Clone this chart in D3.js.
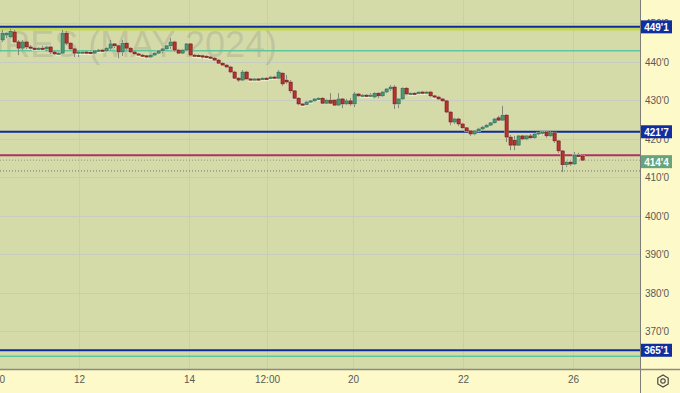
<!DOCTYPE html>
<html>
<head>
<meta charset="utf-8">
<script src="https://cdn.jsdelivr.net/npm/d3@7"></script>
<style>
  html, body { margin: 0; padding: 0; background: #fdf9c9; }
  svg { display: block; font-family: "Liberation Sans", Arial, sans-serif; }
</style>
</head>
<body>
<svg id="chart" width="680" height="393"></svg>
<script>
// candles, one per slot, prices in cents
var opens = [445.7,447.0,446.5,447.8,445.2,443.6,445.2,443.9,443.6,443.4,443.6,443.4,443.9,442.6,442.1,442.3,447.5,444.9,443.4,442.3,
  442.3,442.6,442.5,442.3,442.9,443.1,442.9,443.6,444.7,444.2,442.6,444.9,443.6,442.6,442.1,441.8,441.6,441.3,441.8,442.3,
  442.9,443.4,444.2,445.2,443.1,442.3,443.1,444.7,441.8,441.7,441.6,441.5,441.3,441.0,440.5,439.7,439.2,438.7,437.4,435.8,
  435.3,437.4,435.6,435.5,435.6,435.5,435.8,435.7,436.1,435.8,437.1,435.3,434.8,432.5,430.6,429.1,429.0,429.6,429.9,430.4,
  430.6,429.3,430.1,430.1,428.8,430.4,429.1,429.9,429.1,431.7,431.2,431.4,431.2,430.9,431.9,431.2,432.2,433.0,433.5,429.1,
  430.4,433.2,431.7,431.9,431.8,432.2,431.9,432.2,431.2,430.9,430.4,429.9,427.0,424.4,425.2,423.9,422.9,422.1,421.3,422.1,
  422.6,423.1,423.6,424.2,425.5,424.9,426.2,420.5,419.7,418.4,420.8,420.0,420.8,420.3,421.3,421.6,421.8,420.8,421.6,419.5,
  416.9,413.3,414.0,413.5,415.8,415.6];
var highs = [448.3,447.8,448.6,448.3,445.7,445.7,445.5,444.4,443.9,443.9,444.2,444.2,444.2,442.9,442.6,448.3,448.0,445.2,443.6,442.9,
  442.9,442.9,442.9,443.1,443.4,443.4,443.9,445.7,444.9,444.4,445.7,445.2,443.9,442.9,442.3,442.1,441.8,442.1,442.6,443.1,
  443.6,444.4,446.2,445.5,443.4,443.4,444.9,444.9,442.1,442.1,441.8,441.8,441.6,441.3,440.8,440.0,439.5,439.0,437.7,436.1,
  437.9,437.7,435.8,435.8,435.8,436.1,436.1,436.4,436.4,437.9,437.4,436.6,435.3,432.7,430.9,429.3,429.9,430.1,430.6,430.9,
  430.9,430.4,431.9,430.4,431.9,430.6,430.4,430.6,432.2,431.9,431.7,431.7,431.9,432.2,432.2,432.5,433.2,434.0,434.0,430.6,
  433.5,433.5,432.2,432.2,432.2,432.5,432.5,432.5,431.4,431.2,430.6,430.1,427.3,425.5,425.5,424.2,423.1,422.3,422.3,422.9,
  423.4,423.9,424.4,425.5,426.0,428.6,426.5,421.0,420.8,421.0,421.0,421.0,421.3,421.6,421.8,422.1,422.1,422.1,421.8,419.7,
  417.1,414.3,414.3,416.6,416.4,415.8];
var lows = [445.2,446.2,446.2,444.9,441.8,443.1,443.4,443.1,443.1,443.1,443.1,442.9,442.1,441.8,441.8,442.1,444.4,443.1,441.3,441.3,
  442.1,442.3,442.1,442.1,442.6,442.6,442.6,443.1,443.6,441.0,441.6,443.1,442.3,441.8,441.6,441.3,441.0,441.0,441.6,442.1,
  442.3,443.1,443.4,442.6,442.1,442.1,442.9,441.6,441.6,441.3,440.8,441.0,440.8,440.3,439.5,439.0,438.4,437.1,435.6,434.8,
  435.1,435.3,435.3,435.3,435.3,435.3,435.6,435.6,435.6,435.6,433.8,434.3,431.9,430.4,428.8,428.6,428.8,429.3,429.6,430.1,
  429.1,429.1,429.1,428.6,428.6,428.0,428.8,428.6,428.3,430.9,430.9,430.9,430.9,430.6,430.6,430.9,431.9,432.5,427.8,428.0,
  430.1,431.4,431.4,431.7,431.7,431.7,431.7,430.9,430.6,430.1,429.6,426.7,423.6,423.9,423.4,422.6,421.8,420.8,421.0,421.8,
  422.3,422.9,423.4,423.9,424.7,424.7,419.2,417.1,417.1,418.2,419.7,419.7,420.0,420.0,420.8,421.0,420.3,420.5,419.0,416.4,
  411.4,412.7,413.0,413.3,415.3,414.3];
var closes = [447.5,447.5,448.0,445.2,443.6,445.2,443.9,443.6,443.4,443.6,443.4,443.9,442.6,442.1,442.3,447.5,444.9,443.4,442.3,442.6,
  442.6,442.5,442.3,442.9,443.1,442.9,443.6,444.7,444.2,442.6,444.9,443.6,442.6,442.1,441.8,441.6,441.3,441.8,442.3,442.9,
  443.4,444.2,445.2,443.1,442.3,443.1,444.7,441.8,441.7,441.6,441.5,441.3,441.0,440.5,439.7,439.2,438.7,437.4,435.8,435.3,
  437.4,435.6,435.5,435.6,435.5,435.8,435.7,436.1,435.8,437.4,434.3,434.8,432.5,430.6,429.1,429.0,429.6,429.9,430.4,430.6,
  429.3,430.1,429.3,428.8,430.4,429.1,429.9,429.1,431.7,431.2,431.4,431.2,431.4,431.9,431.2,432.2,433.0,433.5,429.1,430.4,
  433.2,431.7,431.9,431.8,432.2,431.9,432.2,431.2,430.9,430.4,429.9,427.0,424.4,425.2,423.9,422.9,422.1,421.3,422.1,422.6,
  423.1,423.6,424.2,425.2,424.9,426.2,420.5,418.4,418.4,420.8,420.0,420.8,420.3,421.3,421.6,421.8,420.8,421.6,419.5,416.9,
  413.3,414.0,413.5,415.8,415.6,414.5];

// price scale ticks
var priceTicks = [450, 440, 430, 420, 410, 400, 390, 380, 370];
var priceTickLabels = ["450'0", "440'0", "430'0", "420'0", "410'0", "400'0", "390'0", "380'0", "370'0"];

// time axis labels, placed between candle slots
var timeLabels = ["10", "12", "14", "12:00", "20", "22", "26"];
var timeSlots = [-0.75, 19.25, 46.75, 66.25, 87.75, 115.25, 142.75];

// drawn levels
var blueLevels = [449.125, 421.875, 365.125];
var blueLabels = ["449'1", "421'7", "365'1"];
var limeLevel = 448.55;
var tealLevels = [442.9, 363.6];
var magentaLevel = 415.8;
var lastPrice = 414.5;
var lastLabel = "414'4";
var dottedLevel = 411.7;

var W = 680, H = 393;
var plotW = 640, plotH = 369;

var svg = d3.select("#chart");

var x = d3.scaleLinear().domain([0, 1]).range([2, 6]);
var y = d3.scaleLinear().domain([360.26, 456.1]).range([plotH, 0]);

// backgrounds
svg.append("rect").attr("width", W).attr("height", H).attr("fill", "#fdf9c9");
svg.append("rect").attr("width", plotW).attr("height", plotH).attr("fill", "#d5daa9");

var plot = svg.append("g");
plot.append("clipPath").attr("id", "clip")
    .append("rect").attr("width", plotW).attr("height", plotH);
var inner = plot.append("g").attr("clip-path", "url(#clip)");

// grid
inner.append("g").attr("class", "grid")
    .selectAll("line").data(priceTicks).join("line")
    .attr("x1", 0).attr("x2", plotW)
    .attr("y1", d => Math.round(y(d)) + 0.5).attr("y2", d => Math.round(y(d)) + 0.5)
    .attr("stroke", "#c6ccbf").attr("stroke-width", 1);
inner.append("g").attr("class", "grid")
    .selectAll("line").data(timeSlots).join("line")
    .attr("x1", d => Math.round(x(d)) + 0.5).attr("x2", d => Math.round(x(d)) + 0.5)
    .attr("y1", 0).attr("y2", plotH)
    .attr("stroke", "#c6ccbf").attr("stroke-width", 1);

// watermark
inner.append("text")
    .attr("x", 277).attr("y", 57)
    .attr("text-anchor", "end")
    .attr("font-size", 36)
    .attr("fill", "rgba(105,110,100,0.2)")
    .text("CORN FUTURES (MAY 2024)");

// level lines
inner.append("line")
    .attr("x1", 0).attr("x2", plotW)
    .attr("y1", y(limeLevel)).attr("y2", y(limeLevel))
    .attr("stroke", "#c2d84e").attr("stroke-width", 3);
inner.selectAll(".teal").data(tealLevels).join("line")
    .attr("class", "teal")
    .attr("x1", 0).attr("x2", plotW)
    .attr("y1", d => y(d)).attr("y2", d => y(d))
    .attr("stroke", "#5cc79c").attr("stroke-width", 1.5);
inner.selectAll(".blue").data(blueLevels).join("line")
    .attr("class", "blue")
    .attr("x1", 0).attr("x2", plotW)
    .attr("y1", d => y(d)).attr("y2", d => y(d))
    .attr("stroke", "#0d2a9e").attr("stroke-width", 2);
inner.append("line")
    .attr("x1", 0).attr("x2", plotW)
    .attr("y1", y(magentaLevel)).attr("y2", y(magentaLevel))
    .attr("stroke", "#b03065").attr("stroke-width", 2);
inner.append("line")
    .attr("x1", 0).attr("x2", plotW)
    .attr("y1", y(lastPrice)).attr("y2", y(lastPrice))
    .attr("stroke", "#8f9a88").attr("stroke-width", 1)
    .attr("stroke-dasharray", "1,2");
inner.append("line")
    .attr("x1", 0).attr("x2", plotW)
    .attr("y1", y(dottedLevel)).attr("y2", y(dottedLevel))
    .attr("stroke", "#6f7468").attr("stroke-width", 1)
    .attr("stroke-dasharray", "1,2");

// candles
var candles = d3.range(closes.length).map(i => ({
    i: i, o: opens[i], h: highs[i], l: lows[i], c: closes[i]
}));

var cg = inner.append("g").attr("class", "candles");
cg.selectAll(".wick").data(candles).join("line")
    .attr("class", "wick")
    .attr("x1", d => Math.round(x(d.i)) + 0.5).attr("x2", d => Math.round(x(d.i)) + 0.5)
    .attr("y1", d => y(d.h)).attr("y2", d => y(d.l))
    .attr("stroke", "#7e8778").attr("stroke-width", 1);
cg.selectAll(".halo").data(candles).join("rect")
    .attr("class", "halo")
    .attr("x", d => Math.round(x(d.i)) - 2)
    .attr("y", d => y(Math.max(d.o, d.c)) - 1)
    .attr("width", 5)
    .attr("height", d => Math.max(2, Math.abs(y(d.o) - y(d.c))) + 2)
    .attr("fill", "rgba(250,250,225,0.55)");
cg.selectAll(".body").data(candles).join("rect")
    .attr("class", "body")
    .attr("x", d => Math.round(x(d.i)) - 1)
    .attr("y", d => y(Math.max(d.o, d.c)))
    .attr("width", 3.2)
    .attr("height", d => Math.max(1.2, Math.abs(y(d.o) - y(d.c))))
    .attr("fill", d => d.c >= d.o ? "#4c9a76" : "#b8352b")
    .attr("stroke", d => d.c >= d.o ? "#2f6b4d" : "#6e1c16")
    .attr("stroke-width", 0.7);

// panel dividers
svg.append("line")
    .attr("x1", plotW + 0.5).attr("x2", plotW + 0.5)
    .attr("y1", 0).attr("y2", H)
    .attr("stroke", "#7d7d78").attr("stroke-width", 1);
svg.append("line")
    .attr("x1", 0).attr("x2", W)
    .attr("y1", plotH + 0.5).attr("y2", plotH + 0.5)
    .attr("stroke", "#8a8a84").attr("stroke-width", 1.5);

// price axis labels
var yAxis = d3.axisRight(y)
    .tickValues(priceTicks)
    .tickFormat((d, i) => priceTickLabels[i])
    .tickSize(0)
    .tickPadding(5);
var gy = svg.append("g")
    .attr("transform", "translate(" + plotW + ",0)")
    .call(yAxis);
gy.select(".domain").remove();
gy.selectAll("text")
    .attr("font-size", 10)
    .attr("fill", "#5a5a55")
    .attr("font-family", "Liberation Sans, Arial, sans-serif");

// time axis labels
var xAxis = d3.axisBottom(x)
    .tickValues(timeSlots)
    .tickFormat((d, i) => timeLabels[i])
    .tickSize(0)
    .tickPadding(7);
var gx = svg.append("g")
    .attr("transform", "translate(0," + plotH + ")")
    .call(xAxis);
gx.select(".domain").remove();
gx.selectAll("text")
    .attr("font-size", 10)
    .attr("fill", "#5a5a55")
    .attr("font-family", "Liberation Sans, Arial, sans-serif");

// level tags on the price scale
var tags = blueLevels.map((v, i) => ({ v: v, label: blueLabels[i], fill: "#0f2f9e" }));
tags.push({ v: lastPrice, label: lastLabel, fill: "#64a47f", dy: 1.5 });
var tg = svg.append("g").selectAll("g").data(tags).join("g")
    .attr("transform", d => "translate(" + (plotW + 1) + "," + (y(d.v) + (d.dy || 0)) + ")");
tg.append("rect")
    .attr("x", 0).attr("y", -6.5)
    .attr("width", 31).attr("height", 13)
    .attr("fill", d => d.fill);
tg.append("text")
    .attr("x", 15.5).attr("y", 4)
    .attr("text-anchor", "middle")
    .attr("font-size", 10)
    .attr("font-weight", "bold")
    .attr("fill", "#ffffff")
    .text(d => d.label);

// settings icon
var icon = svg.append("g").attr("transform", "translate(663,381)");
icon.append("path")
    .attr("d", d3.range(7).map(k => {
        var a = Math.PI / 3 * k + Math.PI / 6;
        return (k ? "L" : "M") + (6 * Math.cos(a)).toFixed(2) + "," + (6 * Math.sin(a)).toFixed(2);
    }).join("") + "Z")
    .attr("fill", "none").attr("stroke", "#4a4a46").attr("stroke-width", 1.2);
icon.append("circle").attr("r", 2.2)
    .attr("fill", "none").attr("stroke", "#4a4a46").attr("stroke-width", 1.2);
</script>
</body>
</html>
